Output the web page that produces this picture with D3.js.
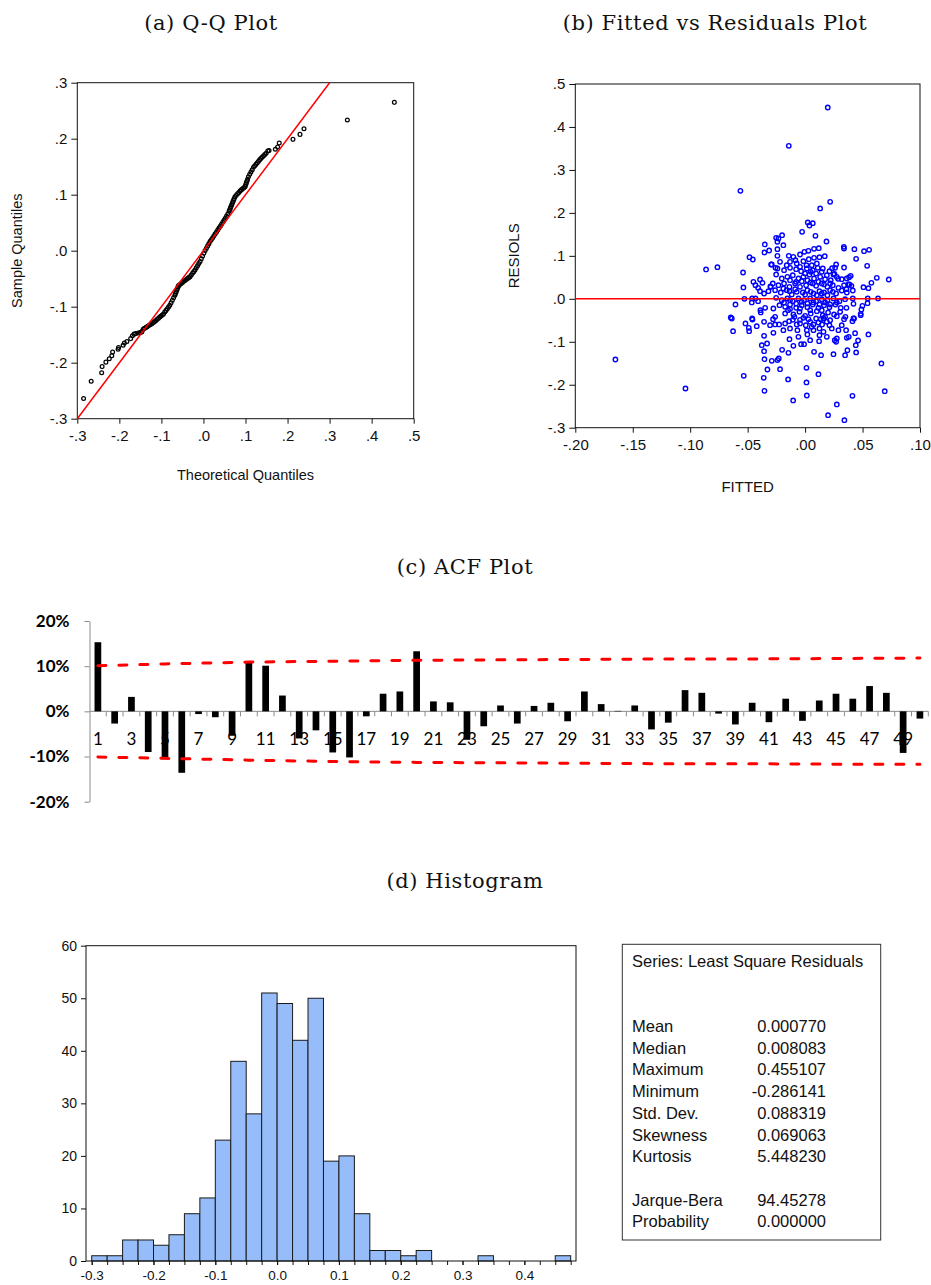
<!DOCTYPE html>
<html>
<head>
<meta charset="utf-8">
<script src="https://cdn.jsdelivr.net/npm/d3@7"></script>
<style>
  body { margin: 0; background: #fff; }
  svg { display: block; }
</style>
</head>
<body>
<svg id="chart" width="931" height="1285"></svg>
<script>
// ---- data: (a) Q-Q plot, [theoretical, sample]
const qqPoints = [
  [-0.285,-0.264],[-0.267,-0.233],[-0.242,-0.218],[-0.241,-0.207],[-0.232,-0.199],[-0.224,-0.193],
  [-0.218,-0.1875],[-0.216,-0.181],[-0.203,-0.176],[-0.202,-0.173],[-0.191,-0.169],[-0.188,-0.165],
  [-0.182,-0.162],[-0.173,-0.157],[-0.169,-0.152],[-0.165,-0.149],[-0.161,-0.148],[-0.155,-0.147],[-0.150,-0.146],
  [-0.147,-0.145],[-0.146,-0.144],[-0.143,-0.140],[-0.140,-0.1386],[-0.137,-0.1371],[-0.134,-0.1357],
  [-0.131,-0.1342],[-0.128,-0.1328],[-0.125,-0.1314],[-0.122,-0.1299],[-0.119,-0.1284],[-0.116,-0.1264],
  [-0.113,-0.1245],[-0.110,-0.1225],[-0.107,-0.1206],[-0.104,-0.1186],[-0.101,-0.1167],[-0.098,-0.1147],
  [-0.095,-0.1129],[-0.092,-0.1096],[-0.089,-0.1066],[-0.086,-0.1036],[-0.083,-0.1006],[-0.080,-0.0976],
  [-0.077,-0.0931],[-0.074,-0.0886],[-0.071,-0.0841],[-0.068,-0.0796],[-0.0665,-0.0766],[-0.065,-0.0736],
  [-0.0635,-0.0706],[-0.062,-0.0676],[-0.0605,-0.0646],[-0.059,-0.0624],[-0.056,-0.0605],[-0.053,-0.0586],
  [-0.050,-0.0566],[-0.047,-0.0547],[-0.044,-0.0531],[-0.041,-0.0514],[-0.038,-0.0498],[-0.035,-0.0481],
  [-0.032,-0.0464],[-0.029,-0.0434],[-0.026,-0.0404],[-0.023,-0.0374],[-0.020,-0.0344],[-0.017,-0.0306],
  [-0.014,-0.0268],[-0.011,-0.0230],[-0.008,-0.0192],[-0.005,-0.0142],[-0.002,-0.0093],[0.001,-0.0044],
  [0.004,0.0005],[0.007,0.0045],[0.010,0.0086],[0.013,0.0126],[0.016,0.0167],[0.019,0.0200],[0.022,0.0233],
  [0.025,0.0267],[0.028,0.0301],[0.031,0.0335],[0.034,0.0370],[0.037,0.0404],[0.040,0.0438],[0.043,0.0472],
  [0.046,0.0506],[0.049,0.0542],[0.052,0.0580],[0.055,0.0617],[0.058,0.0654],[0.061,0.0703],[0.0625,0.0731],
  [0.064,0.0760],[0.0655,0.0788],[0.067,0.0816],[0.0685,0.0844],[0.070,0.0872],[0.0715,0.0900],[0.073,0.0928],
  [0.075,0.0965],[0.078,0.0990],[0.081,0.1016],[0.084,0.1041],[0.087,0.1067],[0.090,0.1086],[0.093,0.1106],
  [0.096,0.1125],[0.099,0.1144],[0.1005,0.1178],[0.102,0.1211],[0.1035,0.1244],[0.105,0.1277],[0.107,0.1321],
  [0.110,0.1363],[0.113,0.1405],[0.116,0.1447],[0.119,0.1489],[0.122,0.1518],[0.125,0.1545],[0.128,0.1572],
  [0.131,0.1599],[0.134,0.1626],[0.137,0.1650],[0.140,0.1672],[0.143,0.1695],[0.146,0.1717],[0.149,0.1740],
  [0.153,0.178],[0.156,0.179],
  [0.171,0.181],[0.1764,0.185],[0.1803,0.1923],[0.2129,0.1988],[0.2296,0.2077],[0.2391,0.2179],
  [0.3422,0.2333],[0.454,0.2649]
];
const qqLine = [[-0.3, -0.3], [0.3, 0.3]];
const qqXTicks = [-0.3, -0.2, -0.1, 0, 0.1, 0.2, 0.3, 0.4, 0.5];
const qqXLabels = ["-.3", "-.2", "-.1", ".0", ".1", ".2", ".3", ".4", ".5"];
const qqYTicks = [-0.3, -0.2, -0.1, 0, 0.1, 0.2, 0.3];
const qqYLabels = ["-.3", "-.2", "-.1", ".0", ".1", ".2", ".3"];

// ---- data: (b) fitted vs residuals, [fitted, residual]
const fitResid = [
  [0.0197,0.4453],[-0.0142,0.3561],[-0.0563,0.2514],[0.0218,0.2258],[0.0131,0.2103],[-0.1651,-0.1412],[-0.1041,-0.2087],
  [0.0023,0.1777],[0.0067,0.1761],[0.0038,0.1707],[-0.0026,0.1559],[0.009,0.1466],[0.0186,0.1334],[0.0337,0.121],
  [0.0339,0.1171],[0.0429,0.1156],[0.0513,0.1109],[0.0557,0.114],[0.0444,0.0931],[0.054,0.0768],
  [-0.0252,0.142],[-0.0232,0.1404],[-0.02,0.1482],[-0.0241,0.1327],[-0.0241,0.1156],[-0.0241,0.1001],[-0.0189,0.1249],
  [-0.0351,0.1265],[-0.0313,0.1125],[-0.0354,0.1078],[-0.0484,0.097],[-0.0455,0.0915],
  [0.027,0.0799],[0.0235,0.0714],[0.0255,0.0582],[0.0287,0.0465],[0.0383,0.0504],[0.0377,0.0334],[0.0403,0.0303],[0.036,0.0225],
  [0.0624,0.0489],[0.0728,0.045],[0.0577,0.0372],[0.0551,0.0248],[0.0508,0.0272],
  [-0.054,0.0613],[-0.045,0.0396],[-0.0537,0.0264],[-0.0392,0.045],[-0.0371,0.0372],[-0.0432,0.0318],[-0.0409,0.0256],
  [-0.0302,0.0287],[-0.0296,0.0799],[-0.0862,0.0683],[-0.0763,0.0737],
  [-0.0006,0.1094],[0.0029,0.1117],[0.0078,0.1164],[0.0119,0.1179],[0.0171,0.0993],[-0.0044,0.1032],[-0.0084,0.09],[-0.0142,0.1001],
  [-0.0131,0.0861],[-0.0073,0.0822],[-0.0015,0.0877],[0.0032,0.0923],[0.0078,0.0954],[0.0125,0.097],[0.0012,0.0784],
  [0.0058,0.0784],[0.0102,0.0822],[-0.016,0.0784],[-0.0218,0.0861],[-0.029,0.0799],[-0.0258,0.0721],
  [-0.0241,0.0706],[-0.0183,0.0667],[-0.0131,0.0721],[-0.0078,0.069],[-0.0035,0.0644],[0.0015,0.0706],[0.0067,0.0667],
  [0.011,0.0721],[0.0154,0.0706],[0.0212,0.0644],[0.0261,0.0721],[0.0339,0.0729],[0.0247,0.0566],
  [-0.0252,0.0566],[-0.0203,0.0473],[-0.0154,0.0512],[-0.0107,0.0551],[-0.0058,0.0473],[-0.0015,0.0512],[0.0038,0.0566],
  [0.0078,0.0473],[0.0131,0.0512],[0.0174,0.0458],[0.0223,0.0434],[0.0276,0.0512],[0.0319,0.0458],[0.0363,0.0473],[0.0397,0.0535],
  [-0.0281,0.0357],[-0.0232,0.0318],[-0.0183,0.0357],[-0.0136,0.0279],[-0.0087,0.0357],[-0.0044,0.0279],[0.0009,0.0318],
  [0.0049,0.038],[0.0096,0.0303],[0.0145,0.0357],[0.0194,0.0279],[0.0241,0.0318],[0.029,0.0256],[0.0339,0.0318],
  [0.0386,0.0334],[-0.0299,0.0279],
  [-0.0392,0.0178],[-0.0357,0.0124],[-0.0319,0.0178],[-0.0261,0.0202],[-0.0212,0.0147],[-0.016,0.0202],[-0.0116,0.0101],
  [-0.0073,0.0163],[-0.002,0.0147],[0.002,0.0202],[0.0073,0.0124],[0.0125,0.0178],[0.0165,0.0147],[0.0218,0.0202],
  [0.027,0.0124],[0.0319,0.0194],[0.0363,0.0147],[0.0415,0.0194],
  [-0.0432,0.0008],[-0.0461,0.0008],[-0.0528,0.0],[-0.0252,0.0023],[-0.0203,-0.0031],[-0.0154,0.0008],[-0.0107,-0.0054],
  [-0.0058,0.0008],[-0.0009,-0.0031],[0.0044,0.0008],[0.0096,-0.0054],[0.0145,-0.0008],[0.0194,-0.0031],[0.0247,0.0008],
  [0.0299,-0.0054],[0.0348,-0.0008],[0.0415,0.0008],[0.0545,0.0008],[0.0635,0.0008],
  [-0.0464,-0.0085],[-0.0409,-0.0054],[-0.0606,-0.0132],[-0.0276,-0.0225],[-0.0223,-0.0147],[-0.0174,-0.0186],
  [-0.0131,-0.0132],[-0.0078,-0.0209],[-0.0029,-0.0147],[0.002,-0.0194],[0.0067,-0.0132],[0.0116,-0.0209],[0.0165,-0.0147],
  [0.0212,-0.0194],[0.0264,-0.0132],[0.031,-0.0209],[0.036,-0.0209],[0.0421,-0.0116],[0.0499,-0.0163],[0.0543,-0.0101],
  [-0.0348,-0.0209],[-0.0389,-0.0264],
  [-0.0386,-0.0318],[-0.0261,-0.0419],[-0.0174,-0.0341],[-0.0148,-0.0264],[-0.0102,-0.0365],[-0.0049,-0.0303],[0.0,-0.0396],
  [0.0049,-0.0341],[0.0102,-0.0287],[0.0154,-0.038],[0.02,-0.0318],[0.0252,-0.0365],[0.0305,-0.0303],[0.0351,-0.0419],
  [0.0421,-0.0458],[0.049,-0.0248],[0.0484,-0.0349],[-0.0647,-0.0434],[-0.0461,-0.0458],
  [-0.0638,-0.0458],[-0.0627,-0.0753],[-0.0519,-0.0574],[-0.0458,-0.0481],[-0.049,-0.0675],[-0.0487,-0.0753],[-0.0421,-0.0636],
  [-0.0357,-0.0535],[-0.0357,-0.0861],[-0.0279,-0.0473],[-0.0261,-0.0597],[-0.0276,-0.0791],[-0.0226,-0.0597],[-0.0174,-0.0574],
  [-0.0139,-0.052],[-0.0107,-0.0489],[-0.0093,-0.0419],[-0.0073,-0.0597],[-0.0067,-0.0729],[-0.0044,-0.0489],[-0.0015,-0.0442],
  [0.0006,-0.0613],[0.0015,-0.0729],[0.002,-0.083],[0.0044,-0.0535],[0.0058,-0.0652],[0.0073,-0.0729],[0.0096,-0.0458],
  [0.0116,-0.0551],[0.0125,-0.069],[0.0125,-0.0846],[0.0122,-0.0985],[0.0148,-0.0597],[0.016,-0.0458],[0.0174,-0.0419],
  [0.0189,-0.0535],[0.0212,-0.0613],[0.0276,-0.0403],[0.029,-0.0729],[0.0276,-0.0923],[0.027,-0.1001],[0.0258,-0.0962],
  [0.0339,-0.0473],[0.0357,-0.0729],[0.0363,-0.0908],[0.038,-0.0884],[0.0412,-0.052],[0.0426,-0.0458],[0.0435,-0.0799],
  [0.0461,-0.097],[0.0441,-0.1078],[0.0368,-0.1195],[0.0348,-0.1311],[0.0444,-0.1249],[0.0551,-0.083],[0.0484,-0.038],
  [-0.0377,-0.1078],[-0.0357,-0.1218],[-0.0331,-0.104],[-0.0354,-0.1404],[-0.029,-0.1443],[-0.0241,-0.1427],[-0.0229,-0.1389],
  [-0.02,-0.1187],[-0.0136,-0.0939],[-0.0102,-0.1094],[-0.0145,-0.1257],[-0.0058,-0.0884],[-0.0035,-0.1055],[-0.0009,-0.1055],
  [0.0078,-0.1234],[0.0139,-0.1311],[0.0247,-0.1288],[-0.0328,-0.1645],[-0.0218,-0.1637],[0.0012,-0.1606],[0.0116,-0.1753],
  [-0.0534,-0.1792],[-0.036,-0.1839],[-0.0148,-0.1877],[0.0012,-0.1947],[-0.0354,-0.2141],[-0.0104,-0.2366],[0.0015,-0.225],
  [0.0276,-0.2459],[0.02,-0.2708],[0.0342,-0.2824],[0.0412,-0.2258],[0.0664,-0.1505],[0.0693,-0.2149],
  [-0.0102,0.0977],[-0.0044,0.0745],[0.0,0.059],[0.0049,0.0628],[0.0096,0.059],[0.0145,0.0628],[0.0189,0.0551],
  [-0.0131,0.0434],[-0.0078,0.0396],[-0.0029,0.0411],[0.002,0.0434],[0.0067,0.0357],[0.0116,0.0396],[0.0165,0.0334],
  [0.0218,0.0357],[-0.0189,0.024],[-0.0136,0.0178],[-0.0087,0.0225],[0.0,0.0101],[0.0049,0.0163],[0.0102,0.0085],
  [0.0145,0.0124],[0.0194,0.0085],[0.0241,0.0163],[-0.0183,-0.0085],[-0.0131,-0.0031],[-0.0078,-0.0109],[-0.0029,-0.007],
  [0.002,-0.0109],[0.0073,-0.0085],[0.0125,-0.0132],[0.0174,-0.0085],[0.0218,-0.0132],[0.0276,-0.0085],[0.0145,-0.0264],
  [0.0044,-0.0264],[-0.0044,-0.0225],[-0.0131,-0.024],
  [-0.0044,-0.0574],[0.0029,-0.0473],[0.0073,-0.0597],[0.0136,-0.0473],[0.0218,-0.0497],[0.0232,-0.069],[0.0319,-0.0613],
  [-0.0131,-0.069],[-0.0189,-0.0729],[-0.0305,-0.0613],[0.016,-0.0768],[0.0189,-0.0884],[0.0044,-0.0962]
];
const fitXTicks = [-0.2, -0.15, -0.1, -0.05, 0, 0.05, 0.1];
const fitXLabels = ["-.20", "-.15", "-.10", "-.05", ".00", ".05", ".10"];
const fitYTicks = [-0.3, -0.2, -0.1, 0, 0.1, 0.2, 0.3, 0.4, 0.5];
const fitYLabels = ["-.3", "-.2", "-.1", ".0", ".1", ".2", ".3", ".4", ".5"];

// ---- data: (c) ACF, values in percent
const acfLags = [1,2,3,4,5,6,7,8,9,10,11,12,13,14,15,16,17,18,19,20,21,22,23,24,25,
  26,27,28,29,30,31,32,33,34,35,36,37,38,39,40,41,42,43,44,45,46,47,48,49,50];
const acfValues = [15.3,-2.7,3.2,-9.0,-10.6,-13.6,-0.6,-1.3,-5.4,11.1,
  10.1,3.5,-6.0,-4.2,-9.1,-10.2,-1.1,3.9,4.4,13.3,
  2.2,2.0,-6.3,-3.3,1.3,-2.7,1.2,1.9,-2.2,4.4,
  1.6,0.1,1.3,-4.0,-2.5,4.7,4.1,-0.5,-2.9,1.9,
  -2.4,2.8,-2.1,2.4,3.9,2.8,5.6,4.1,-9.2,-1.6];
const bandLags = [1, 5, 10, 15, 20, 25, 30, 35, 40, 45, 50];
const bandUpper = [10.1, 10.5, 10.9, 11.1, 11.3, 11.4, 11.5, 11.6, 11.6, 11.7, 11.8];
const bandLower = [-10.1, -10.4, -10.8, -11.1, -11.3, -11.4, -11.5, -11.6, -11.6, -11.7, -11.7];
const acfYTicks = [-20, -10, 0, 10, 20];
const acfYLabels = ["-20%", "-10%", "0%", "10%", "20%"];

// ---- data: (d) histogram
const histBins = [-0.300,-0.275,-0.250,-0.225,-0.200,-0.175,-0.150,-0.125,-0.100,-0.075,-0.050,-0.025,
  0.000,0.025,0.050,0.075,0.100,0.125,0.150,0.175,0.200,0.225,0.250,0.275,0.300,0.325,0.350,0.375,0.400,0.425,0.450];
const histCounts = [1,1,4,4,3,5,9,12,23,38,28,51,49,42,50,19,20,9,2,2,1,2,0,0,0,1,0,0,0,0,1];
const binWidth = 0.025;
const histXTicks = [-0.3, -0.2, -0.1, 0, 0.1, 0.2, 0.3, 0.4];
const histXLabels = ["-0.3", "-0.2", "-0.1", "0.0", "0.1", "0.2", "0.3", "0.4"];
const histYTicks = [0, 10, 20, 30, 40, 50, 60];
const histYLabels = ["0", "10", "20", "30", "40", "50", "60"];
const statLabels = ["Mean", "Median", "Maximum", "Minimum", "Std. Dev.", "Skewness", "Kurtosis", "Jarque-Bera", "Probability"];
const statValues = ["0.000770", "0.008083", "0.455107", "-0.286141", "0.088319", "0.069063", "5.448230", "94.45278", "0.000000"];

const titles = ["(a) Q-Q Plot", "(b) Fitted vs Residuals Plot", "(c) ACF Plot", "(d) Histogram"];

// ---------------------------------------------------------------
const svg = d3.select("#chart");
svg.append("rect").attr("width", 931).attr("height", 1285).attr("fill", "#fff");

const SANS = "'Liberation Sans', Arial, sans-serif";
const titlePos = [[211, 30], [715, 30], [465, 574], [465, 888]];
svg.selectAll("text.title")
  .data(titles)
  .join("text")
  .attr("class", "title")
  .attr("x", (d, i) => titlePos[i][0])
  .attr("y", (d, i) => titlePos[i][1])
  .attr("text-anchor", "middle")
  .attr("font-family", "'DejaVu Serif', serif")
  .attr("font-size", "21px")
  .attr("letter-spacing", "0.6px")
  .attr("fill", "#111")
  .text((d) => d);

function styleAxis(g, size, family) {
  g.select(".domain").remove();
  g.attr("font-family", family).attr("font-size", size);
  g.selectAll("text").attr("fill", "#111");
  g.selectAll("line").attr("stroke", "#111");
}

function framedPanel(xs, ys, o) {
  const g = svg.append("g");
  const [x0, x1] = xs.range();
  const [y1, y0] = ys.range();
  g.append("rect")
    .attr("x", x0).attr("y", y0)
    .attr("width", x1 - x0).attr("height", y1 - y0)
    .attr("fill", "none").attr("stroke", "#111").attr("stroke-width", 1);
  g.append("g")
    .attr("transform", `translate(0,${y1})`)
    .call(d3.axisBottom(xs).tickValues(o.xTicks).tickFormat((d, i) => o.xLabels[i])
      .tickSize(5).tickSizeOuter(0).tickPadding(7))
    .call((a) => styleAxis(a, "15px", SANS));
  g.append("g")
    .attr("transform", `translate(${x0},0)`)
    .call(d3.axisLeft(ys).tickValues(o.yTicks).tickFormat((d, i) => o.yLabels[i])
      .tickSize(6).tickSizeOuter(0).tickPadding(4))
    .call((a) => styleAxis(a, "15px", SANS));
  g.append("text")
    .attr("x", (x0 + x1) / 2)
    .attr("y", o.xLabelY)
    .attr("text-anchor", "middle")
    .attr("font-family", SANS).attr("font-size", o.labelSize).attr("fill", "#111")
    .text(o.xLabel);
  g.append("text")
    .attr("transform", `translate(${o.yLabelX},${(y0 + y1) / 2}) rotate(-90)`)
    .attr("text-anchor", "middle")
    .attr("font-family", SANS).attr("font-size", o.labelSize).attr("fill", "#111")
    .text(o.yLabel);
  return g;
}

// ---- (a) Q-Q
const qx = d3.scaleLinear().domain([-0.3, 0.5]).range([77.3, 413.7]);
const qy = d3.scaleLinear().domain([-0.3, 0.3]).range([418.7, 82.7]);
const qq = framedPanel(qx, qy, {
  xTicks: qqXTicks, xLabels: qqXLabels, yTicks: qqYTicks, yLabels: qqYLabels,
  xLabel: "Theoretical Quantiles", yLabel: "Sample Quantiles",
  xLabelY: 480, yLabelX: 22, labelSize: "14.5px"
});
qq.append("g")
  .selectAll("circle")
  .data(qqPoints)
  .join("circle")
  .attr("cx", (d) => qx(d[0]))
  .attr("cy", (d) => qy(d[1]))
  .attr("r", 1.9)
  .attr("fill", "none")
  .attr("stroke", "#000")
  .attr("stroke-width", 1.25);
qq.append("path")
  .datum(qqLine)
  .attr("d", d3.line().x((d) => qx(d[0])).y((d) => qy(d[1])))
  .attr("stroke", "#ff0000")
  .attr("stroke-width", 1.5)
  .attr("fill", "none");

// ---- (b) fitted vs residuals
const fx = d3.scaleLinear().domain([-0.2, 0.1]).range([575.3, 920]);
const fy = d3.scaleLinear().domain([-0.3, 0.5]).range([427.7, 84]);
const fr = framedPanel(fx, fy, {
  xTicks: fitXTicks, xLabels: fitXLabels, yTicks: fitYTicks, yLabels: fitYLabels,
  xLabel: "FITTED", yLabel: "RESIOLS",
  xLabelY: 492, yLabelX: 519, labelSize: "15px"
});
fr.append("g")
  .selectAll("circle")
  .data(fitResid)
  .join("circle")
  .attr("cx", (d) => fx(d[0]))
  .attr("cy", (d) => fy(d[1]))
  .attr("r", 2.2)
  .attr("fill", "none")
  .attr("stroke", "#0000ff")
  .attr("stroke-width", 1.4);
fr.append("line")
  .attr("x1", fx(-0.2)).attr("x2", fx(0.1))
  .attr("y1", fy(0)).attr("y2", fy(0))
  .attr("stroke", "#ff0000")
  .attr("stroke-width", 1.5);

// ---- (c) ACF
const CAL = "Lato, 'Open Sans', sans-serif";
const ax = d3.scaleBand().domain(acfLags).range([89.5, 928.3]).paddingInner(0.6).paddingOuter(0.3);
const ay = d3.scaleLinear().domain([-20, 20]).range([801.7, 621]);
const acf = svg.append("g");

acf.append("g")
  .attr("transform", "translate(89.5,0)")
  .call(d3.axisLeft(ay).tickValues(acfYTicks).tickFormat((d, i) => acfYLabels[i])
    .tickSize(5).tickSizeOuter(0).tickPadding(15))
  .call((g) => {
    g.select(".domain").attr("stroke", "#8c8c8c");
    g.selectAll("line").attr("stroke", "#8c8c8c");
    g.attr("font-family", CAL).attr("font-size", "17px").attr("font-weight", "bold");
    g.selectAll("text").attr("fill", "#000");
  });

// category boundary ticks under the zero line
const step = ax.step();
const edges = acfLags.map((d) => ax(d) + ax.bandwidth() / 2 + step / 2);
acf.append("line")
  .attr("x1", 89.5).attr("x2", 928.3)
  .attr("y1", ay(0)).attr("y2", ay(0))
  .attr("stroke", "#8c8c8c").attr("stroke-width", 1);
acf.append("g")
  .selectAll("line")
  .data(edges)
  .join("line")
  .attr("x1", (d) => d).attr("x2", (d) => d)
  .attr("y1", ay(0)).attr("y2", ay(0) + 5)
  .attr("stroke", "#8c8c8c");

acf.append("g")
  .selectAll("text")
  .data(acfLags.filter((d) => d % 2 === 1))
  .join("text")
  .attr("x", (d) => ax(d) + ax.bandwidth() / 2)
  .attr("y", ay(0) + 34)
  .attr("text-anchor", "middle")
  .attr("font-family", CAL)
  .attr("font-size", "17px")
  .attr("fill", "#000")
  .text((d) => d);

acf.append("g")
  .selectAll("rect")
  .data(acfLags)
  .join("rect")
  .attr("x", (d) => ax(d))
  .attr("width", ax.bandwidth())
  .attr("y", (d, i) => ay(Math.max(0, acfValues[i])))
  .attr("height", (d, i) => Math.abs(ay(acfValues[i]) - ay(0)))
  .attr("fill", "#000");

const bandLine = d3.line()
  .x((d) => ax(d[0]) + ax.bandwidth() / 2)
  .y((d) => ay(d[1]));
[bandUpper, bandLower].forEach((band) => {
  acf.append("path")
    .datum(bandLags.map((l, i) => [l, band[i]]))
    .attr("d", bandLine)
    .attr("fill", "none")
    .attr("stroke", "#ff0000")
    .attr("stroke-width", 3)
    .attr("stroke-linecap", "round")
    .attr("stroke-dasharray", "8,13");
});

// ---- (d) histogram
const hx = d3.scaleLinear().domain([-0.3, 0.475]).range([91.7, 570.7]);
const hy = d3.scaleLinear().domain([0, 60]).range([1261, 945.7]);
const hist = svg.append("g");

hist.append("g")
  .selectAll("rect")
  .data(histBins)
  .join("rect")
  .attr("x", (d) => hx(d))
  .attr("width", (d) => hx(d + binWidth) - hx(d))
  .attr("y", (d, i) => hy(histCounts[i]))
  .attr("height", (d, i) => hy(0) - hy(histCounts[i]))
  .attr("fill", (d, i) => (histCounts[i] ? "#96bdf9" : "none"))
  .attr("stroke", (d, i) => (histCounts[i] ? "#1a1a1a" : "none"))
  .attr("stroke-width", 1);

hist.append("rect")
  .attr("x", 86).attr("y", 945.7)
  .attr("width", 490).attr("height", hy(0) - 945.7)
  .attr("fill", "none").attr("stroke", "#111").attr("stroke-width", 1);

hist.append("g")
  .attr("transform", `translate(0,${hy(0)})`)
  .call(d3.axisBottom(hx).tickValues(histBins.concat([0.475])).tickFormat("")
    .tickSize(4).tickSizeOuter(0))
  .call((a) => styleAxis(a, "13.5px", SANS));
hist.append("g")
  .attr("transform", `translate(0,${hy(0)})`)
  .call(d3.axisBottom(hx).tickValues(histXTicks).tickFormat((d, i) => histXLabels[i])
    .tickSize(4).tickSizeOuter(0).tickPadding(5))
  .call((a) => styleAxis(a, "13.5px", SANS));
hist.append("g")
  .attr("transform", "translate(86,0)")
  .call(d3.axisLeft(hy).tickValues(histYTicks).tickFormat((d, i) => histYLabels[i])
    .tickSize(5).tickSizeOuter(0).tickPadding(4))
  .call((a) => styleAxis(a, "14px", SANS));

// stats box
const box = svg.append("g");
box.append("rect")
  .attr("x", 622.3).attr("y", 944.3)
  .attr("width", 258.4).attr("height", 295.7)
  .attr("fill", "none").attr("stroke", "#333").attr("stroke-width", 1);
box.append("text")
  .attr("x", 632).attr("y", 967)
  .attr("font-family", SANS).attr("font-size", "16.5px").attr("fill", "#111")
  .text("Series: Least Square Residuals");
const rowY = (i) => 1032 + i * 21.7 + (i >= 7 ? 21.7 : 0);
box.append("g")
  .selectAll("text")
  .data(statLabels)
  .join("text")
  .attr("x", 632).attr("y", (d, i) => rowY(i))
  .attr("font-family", SANS).attr("font-size", "16.5px").attr("fill", "#111")
  .text((d) => d);
box.append("g")
  .selectAll("text")
  .data(statValues)
  .join("text")
  .attr("x", 826).attr("y", (d, i) => rowY(i))
  .attr("text-anchor", "end")
  .attr("font-family", SANS).attr("font-size", "16.5px").attr("fill", "#111")
  .text((d) => d);
</script>
</body>
</html>
